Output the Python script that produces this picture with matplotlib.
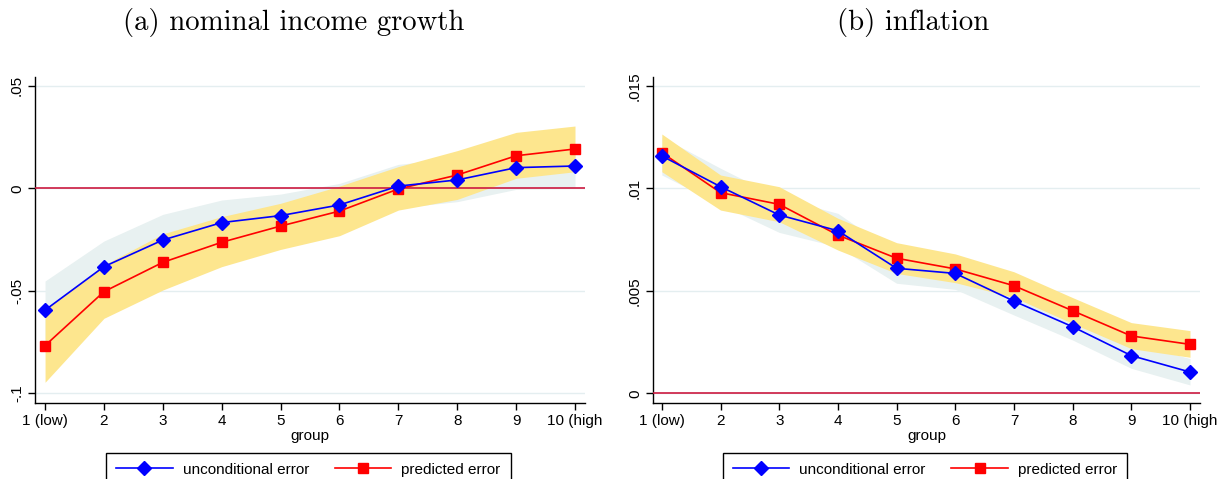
import numpy as np
import matplotlib
matplotlib.use("Agg")
import matplotlib.pyplot as plt

plt.rcParams['font.family'] = ['Liberation Sans', 'DejaVu Sans']

groups = np.arange(1, 11)
group_labels = ["1 (low)", "2", "3", "4", "5", "6", "7", "8", "9", "10 (high"]

# (a) nominal income growth
inc_uncond = [-0.0594, -0.0382, -0.0252, -0.0167, -0.0133, -0.0081, 0.0011, 0.0041, 0.0101, 0.0109]
inc_uncond_lo = [-0.0736, -0.0507, -0.0377, -0.0277, -0.0238, -0.0186, -0.0095, -0.0065, -0.0005, 0.0000]
inc_uncond_hi = [-0.0452, -0.0257, -0.0127, -0.0057, -0.0028, 0.0024, 0.0117, 0.0147, 0.0207, 0.0218]
inc_pred = [-0.0767, -0.0504, -0.0361, -0.0263, -0.0184, -0.0111, -0.0003, 0.0065, 0.0159, 0.0192]
inc_pred_lo = [-0.0946, -0.0634, -0.0496, -0.0382, -0.0298, -0.0231, -0.0106, -0.0054, 0.0049, 0.0081]
inc_pred_hi = [-0.0588, -0.0374, -0.0222, -0.0138, -0.0073, 0.0011, 0.0106, 0.0184, 0.0273, 0.0304]

# (b) inflation
inf_uncond = [0.01158, 0.01008, 0.0087, 0.00793, 0.0061, 0.00585, 0.0045, 0.00325, 0.00184, 0.00104]
inf_uncond_lo = [0.01065, 0.0092, 0.00785, 0.00715, 0.00537, 0.00507, 0.00382, 0.0026, 0.00122, 0.00041]
inf_uncond_hi = [0.0125, 0.01098, 0.00955, 0.00878, 0.0068, 0.0066, 0.0052, 0.0039, 0.00245, 0.0017]
inf_pred = [0.01174, 0.00979, 0.00922, 0.00772, 0.00659, 0.00607, 0.00525, 0.00403, 0.0028, 0.00239]
inf_pred_lo = [0.01081, 0.00894, 0.00837, 0.00699, 0.00585, 0.0054, 0.00468, 0.00341, 0.00218, 0.00176]
inf_pred_hi = [0.01265, 0.01065, 0.01008, 0.00854, 0.00735, 0.0068, 0.00593, 0.00467, 0.00345, 0.00306]

BLUE = "#0000ff"
RED = "#ff0000"
YELLOW = "#fde68e"
GREYBAND = "#e8f1f1"
GRID = "#e4eef0"
ZERO = "#cc1a40"

fig = plt.figure(figsize=(12.17, 4.79), dpi=100)
ax1 = fig.add_axes([0.0288, 0.1587, 0.4519, 0.6805])
ax2 = fig.add_axes([0.5366, 0.1587, 0.4494, 0.6805])

def panel(ax, title, title_x, u, ulo, uhi, p, plo, phi, yticks, yticklabels, ylim, xlim):
    for yv in yticks:
        ax.axhline(yv, color=GRID, lw=1.0, zorder=0)
    ax.fill_between(groups, ulo, uhi, color=GREYBAND, lw=0, zorder=1)
    ax.fill_between(groups, plo, phi, color=YELLOW, lw=0, zorder=2)
    ax.axhline(0, color=ZERO, lw=1.2, zorder=3)
    lu, = ax.plot(groups, u, color=BLUE, lw=1.2, marker='D', ms=7.5, zorder=5,
                  label="unconditional error")
    lp, = ax.plot(groups, p, color=RED, lw=1.2, marker='s', ms=7, zorder=4,
                  label="predicted error")
    ax.set_xlim(*xlim)
    ax.set_ylim(*ylim)
    ax.set_xticks(groups)
    ax.set_xticklabels(group_labels, fontsize=11)
    ax.set_yticks(yticks)
    ax.set_yticklabels(yticklabels, fontsize=11, rotation=90, va='center')
    ax.tick_params(direction='out', length=5, width=1, color='black', pad=3)
    for s in ['top', 'right']:
        ax.spines[s].set_visible(False)
    for s in ['left', 'bottom']:
        ax.spines[s].set_linewidth(1.0)
    ax.set_xlabel("group", fontsize=11, labelpad=1)
    ax.set_title(title, fontsize=20.7, family='cmr10', pad=34, x=title_x)
    leg = ax.legend(handles=[lu, lp], loc='upper center', bbox_to_anchor=(0.497, -0.153),
                    ncol=2, frameon=True, fancybox=False, edgecolor='black',
                    framealpha=1, fontsize=11, handlelength=3.7, handletextpad=0.65,
                    columnspacing=1.7, borderpad=0.65, borderaxespad=0)
    leg.get_frame().set_linewidth(1.0)

panel(ax1, "(a) nominal income growth", 0.47, inc_uncond, inc_uncond_lo, inc_uncond_hi,
      inc_pred, inc_pred_lo, inc_pred_hi,
      [-0.1, -0.05, 0, 0.05], ["-.1", "-.05", "0", ".05"], (-0.1047, 0.0543), (0.83, 10.17))
panel(ax2, "(b) inflation", 0.475, inf_uncond, inf_uncond_lo, inf_uncond_hi,
      inf_pred, inf_pred_lo, inf_pred_hi,
      [0, 0.005, 0.01, 0.015], ["0", ".005", ".01", ".015"], (-0.00047, 0.01543), (0.85, 10.17))

fig.savefig("out.png", dpi=100)
